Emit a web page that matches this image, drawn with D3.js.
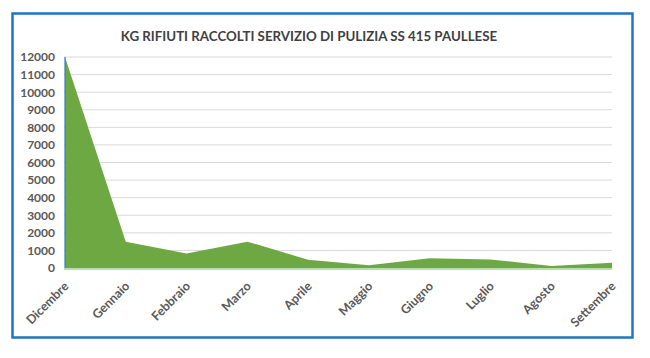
<!DOCTYPE html>
<html><head><meta charset="utf-8">
<script src="https://cdn.jsdelivr.net/npm/d3@7"></script>
<style>body{margin:0;background:#fff;}svg{display:block;}</style>
</head><body>
<svg id="c" width="650" height="358"></svg>
<script>
const categories = ["Dicembre","Gennaio","Febbraio","Marzo","Aprile","Maggio","Giugno","Luglio","Agosto","Settembre"];
const values = [12000,1500,830,1500,470,150,550,490,110,300];
const yTicks = [0,1000,2000,3000,4000,5000,6000,7000,8000,9000,10000,11000,12000];
const title = "KG RIFIUTI RACCOLTI SERVIZIO DI PULIZIA SS 415 PAULLESE";

const svg = d3.select("#c");
const font = "Lato, 'Open Sans', sans-serif";

svg.append("rect").attr("x",12.5).attr("y",13.5).attr("width",620).attr("height",324)
  .attr("fill","#fff").attr("stroke","#1f74c4").attr("stroke-width",2.5);

const x = d3.scalePoint().domain(categories).range([65,612]);
const y = d3.scaleLinear().domain([0,12000]).range([268,57]);

svg.append("g").selectAll("line").data(yTicks.slice(1)).join("line")
  .attr("x1",64).attr("x2",612).attr("y1",d=>y(d)).attr("y2",d=>y(d))
  .attr("stroke","#d9d9d9").attr("stroke-width",1);

const data = categories.map((c,i)=>({c,v:values[i]}));
const area = d3.area().x(d=>x(d.c)).y0(y(0)).y1(d=>y(d.v));
svg.append("path").datum(data).attr("d",area).attr("fill","#6ea843");
svg.append("line").attr("x1",64).attr("x2",612).attr("y1",y(0)+1).attr("y2",y(0)+1)
  .attr("stroke","#a9cf8e").attr("stroke-width",1.5);
svg.append("line").attr("x1",x(categories[0])).attr("x2",x(categories[0]))
  .attr("y1",y(0)).attr("y2",y(12000)).attr("stroke","#2f80c8").attr("stroke-width",1.2);

const ya = svg.append("g").attr("transform","translate(55,0)")
  .call(d3.axisLeft(y).tickValues(yTicks).tickFormat(d3.format("d")).tickSize(0).tickPadding(0));
ya.select(".domain").remove();
ya.selectAll("text").attr("font-family",font).attr("font-weight","bold")
  .attr("font-size","12px").attr("fill","#595959");

const xa = svg.append("g").attr("transform",`translate(0,${y(0)})`)
  .call(d3.axisBottom(x).tickSize(0).tickPadding(0));
xa.select(".domain").remove();
xa.selectAll("text").attr("font-family",font).attr("font-weight","bold")
  .attr("font-size","12.5px").attr("fill","#595959")
  .attr("text-anchor","end").attr("dy",0)
  .attr("transform","translate(4,19) rotate(-45)");

svg.append("text").attr("x",309).attr("y",41).attr("text-anchor","middle")
  .attr("font-family",font).attr("font-weight","bold").attr("font-size","13.3px")
  .attr("fill","#404040").text(title);
</script>
</body></html>
